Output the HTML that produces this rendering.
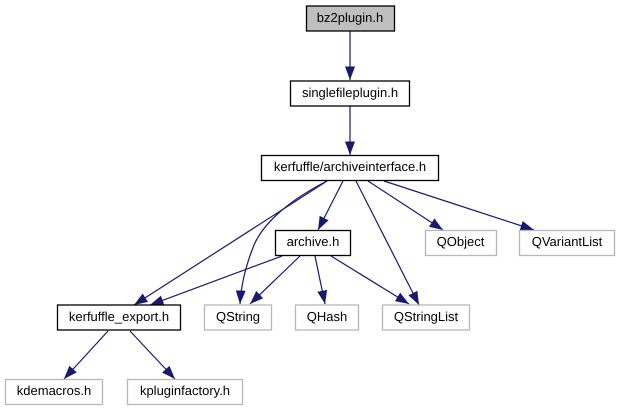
<!DOCTYPE html>
<html>
<head>
<meta charset="utf-8">
<style>
html,body{margin:0;padding:0;background:#fff}
svg{display:block;filter:blur(0.3px)}
text{font-family:"Liberation Sans",sans-serif;font-size:13px;text-anchor:middle;fill:#000;text-rendering:geometricPrecision}
.n{fill:#fff;stroke:#000;stroke-width:1.3}
.g{fill:#fff;stroke:#b8b8b8;stroke-width:1.3}
.e{fill:none;stroke:#191970;stroke-width:1.2;marker-end:url(#a)}
</style>
</head>
<body>
<svg width="620" height="411" viewBox="0 0 620 411" xmlns="http://www.w3.org/2000/svg">
<defs>
<marker id="a" markerUnits="userSpaceOnUse" markerWidth="15" markerHeight="12" refX="13.5" refY="5.5" orient="auto">
<path d="M0,0.5 L13.5,5.5 L0,10.5 Z" fill="#191970"/>
</marker>
</defs>

<path class="e" d="M350,31 L350,80"/>
<path class="e" d="M350,106 L350,155"/>
<path class="e" d="M327,181 L134,305"/>
<path class="e" d="M327,181 C290,200 264,222 254,245 C246,265 241,285 240,304"/>
<path class="e" d="M343,181 L318,230"/>
<path class="e" d="M356,181 L419,305"/>
<path class="e" d="M368,181 L443,230"/>
<path class="e" d="M384,181 L534,230"/>
<path class="e" d="M282,256 L150,305"/>
<path class="e" d="M300,256 L250,304"/>
<path class="e" d="M315,256 L325,304"/>
<path class="e" d="M331,256 L409,304"/>
<path class="e" d="M108,331 L64,379"/>
<path class="e" d="M130,331 L175,379"/>

<rect x="306.500" y="6" width="88" height="25" fill="#bfbfbf" stroke="#000" stroke-width="1.3"/>
<text x="350" y="22">bz2plugin.h</text>
<rect class="n" x="290.500" y="81" width="119" height="25"/>
<text x="350" y="97">singlefileplugin.h</text>
<rect class="n" x="261.500" y="155.500" width="177" height="25"/>
<text x="350" y="171">kerfuffle/archiveinterface.h</text>
<rect class="n" x="275.500" y="230.500" width="75" height="25"/>
<text x="313" y="246">archive.h</text>
<rect class="g" x="425.500" y="230.500" width="71" height="25"/>
<text x="460.500" y="246">QObject</text>
<rect class="g" x="519.500" y="230.500" width="95" height="25"/>
<text x="567" y="246">QVariantList</text>
<rect class="n" x="57.500" y="305" width="123" height="25"/>
<text x="119" y="321">kerfuffle_export.h</text>
<rect class="g" x="204.500" y="305" width="67" height="25"/>
<text x="238" y="321">QString</text>
<rect class="g" x="295.500" y="305" width="63" height="25"/>
<text x="327" y="321">QHash</text>
<rect class="g" x="382.500" y="305" width="87" height="25"/>
<text x="426" y="321">QStringList</text>
<rect class="g" x="5.500" y="379.500" width="97" height="25"/>
<text x="54" y="395">kdemacros.h</text>
<rect class="g" x="127.500" y="379.500" width="115" height="25"/>
<text x="185" y="395">kpluginfactory.h</text>
</svg>
</body>
</html>
